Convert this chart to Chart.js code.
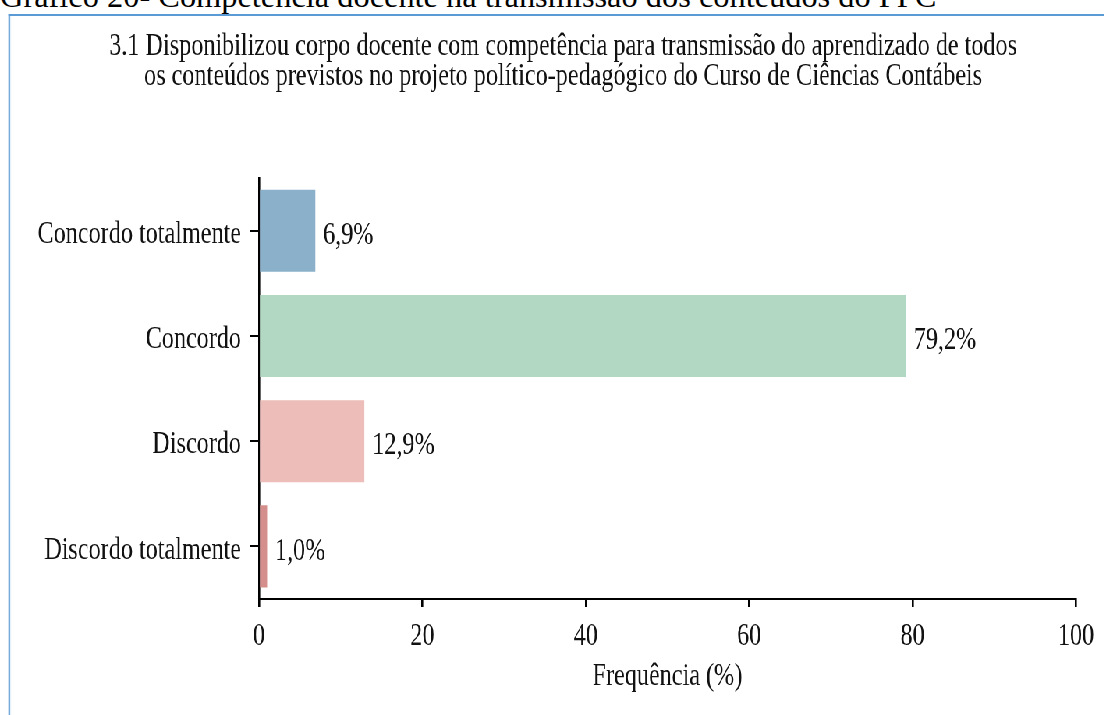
<!DOCTYPE html>
<html>
<head>
<meta charset="utf-8">
<script src="https://cdn.jsdelivr.net/npm/chart.js@4.4.1/dist/chart.umd.min.js"></script>
<style>
  html, body { margin: 0; padding: 0; background: #fff; overflow: hidden; }
  body { width: 1104px; height: 715px; position: relative; }
  .caption {
    position: absolute; left: 0; top: -20px; white-space: nowrap;
    font-family: 'Liberation Serif', serif; font-size: 32.4px; line-height: 32px; color: #000;
  }
  /* the reference figure is squeezed sideways, so draw wide and compress */
  .wrap {
    position: absolute; left: 0; top: 0; width: 1415px; height: 715px;
    transform: scaleX(0.78); transform-origin: 0 0;
  }
  .frame {
    position: absolute; left: 11px; top: 14px; width: 1500px; height: 720px;
    border-top: 2px solid #5b9bd5; border-left: 2.6px solid #5b9bd5;
  }
  #chart { position: absolute; left: 0; top: 0; width: 1404px; height: 715px; }
</style>
</head>
<body>
<div class="caption">Gráfico 20- Competência docente na transmissão dos conteúdos do PPC</div>
<div class="wrap">
  <div class="frame"></div>
  <canvas id="chart" width="1404" height="715"></canvas>
</div>
<script>
const titleLines = [
  '3.1 Disponibilizou corpo docente com competência para transmissão do aprendizado de todos',
  'os conteúdos previstos no projeto político-pedagógico do Curso de Ciências Contábeis'
];
const categories = ['Concordo totalmente', 'Concordo', 'Discordo', 'Discordo totalmente'];
const frequencies = [6.9, 79.2, 12.9, 1.0];
const barColors = ['#8ab0ca', '#b2d8c3', '#edbdb9', '#d48f8c'];
const xTicks = [0, 20, 40, 60, 80, 100];
const xTitle = 'Frequência (%)';

const serif = 'Liberation Serif';
const ink = '#111';
const fmt = (v) => v.toFixed(1).replace('.', ',') + '%';

const valueLabels = {
  id: 'valueLabels',
  afterDatasetsDraw(chart) {
    const { ctx, scales } = chart;
    const meta = chart.getDatasetMeta(0);
    ctx.save();
    ctx.font = `31px "${serif}"`;
    ctx.fillStyle = ink;
    ctx.textAlign = 'left';
    ctx.textBaseline = 'middle';
    frequencies.forEach((v, i) => {
      const x = scales.x.getPixelForValue(v) + 10;
      const y = meta.data[i].y + 5;
      ctx.fillText(fmt(v), x, y);
    });
    ctx.restore();
  }
};

new Chart(document.getElementById('chart'), {
  type: 'bar',
  data: {
    labels: categories,
    datasets: [{
      data: frequencies,
      backgroundColor: barColors,
      categoryPercentage: 1,
      barPercentage: 0.78
    }]
  },
  options: {
    indexAxis: 'y',
    responsive: false,
    animation: false,
    layout: { padding: { left: 40, right: 0, top: 0, bottom: 16 } },
    plugins: {
      legend: { display: false },
      tooltip: { enabled: false },
      title: {
        display: true,
        text: titleLines,
        color: ink,
        font: { family: serif, size: 31, weight: 'normal', lineHeight: 0.97 },
        padding: { top: 32, bottom: 86 }
      }
    },
    scales: {
      x: {
        min: 0,
        max: 100,
        afterBuildTicks: (axis) => { axis.ticks = xTicks.map((v) => ({ value: v })); },
        afterFit: (axis) => { axis.height = 100; },
        border: { display: true, color: '#000', width: 2 },
        grid: { display: true, drawOnChartArea: false, drawTicks: true, tickLength: 8, color: '#000', lineWidth: 2.6 },
        // tall line box instead of tick padding keeps the label off the plot without eating width
        ticks: { color: ink, padding: 0, font: { family: serif, size: 31, lineHeight: 60 / 31 } },
        title: {
          display: true,
          text: xTitle,
          color: ink,
          font: { family: serif, size: 31, lineHeight: 1.12 },
          padding: { top: 0, bottom: 4.6 }
        }
      },
      y: {
        afterFit: (axis) => { axis.width = 292; },
        border: { display: true, color: '#000', width: 2.6 },
        grid: { display: true, offset: false, drawOnChartArea: false, drawTicks: true, tickLength: 11.5, color: '#000', lineWidth: 2 },
        ticks: { color: ink, padding: 11.5, labelOffset: 4, font: { family: serif, size: 31 } }
      },
      // empty strip on the right so the plot ends where the reference does
      yRight: {
        axis: 'y',
        type: 'category',
        position: 'right',
        afterFit: (axis) => { axis.width = 24.5; },
        border: { display: false },
        grid: { display: false },
        ticks: { display: false }
      }
    }
  },
  plugins: [valueLabels]
});
</script>
</body>
</html>
